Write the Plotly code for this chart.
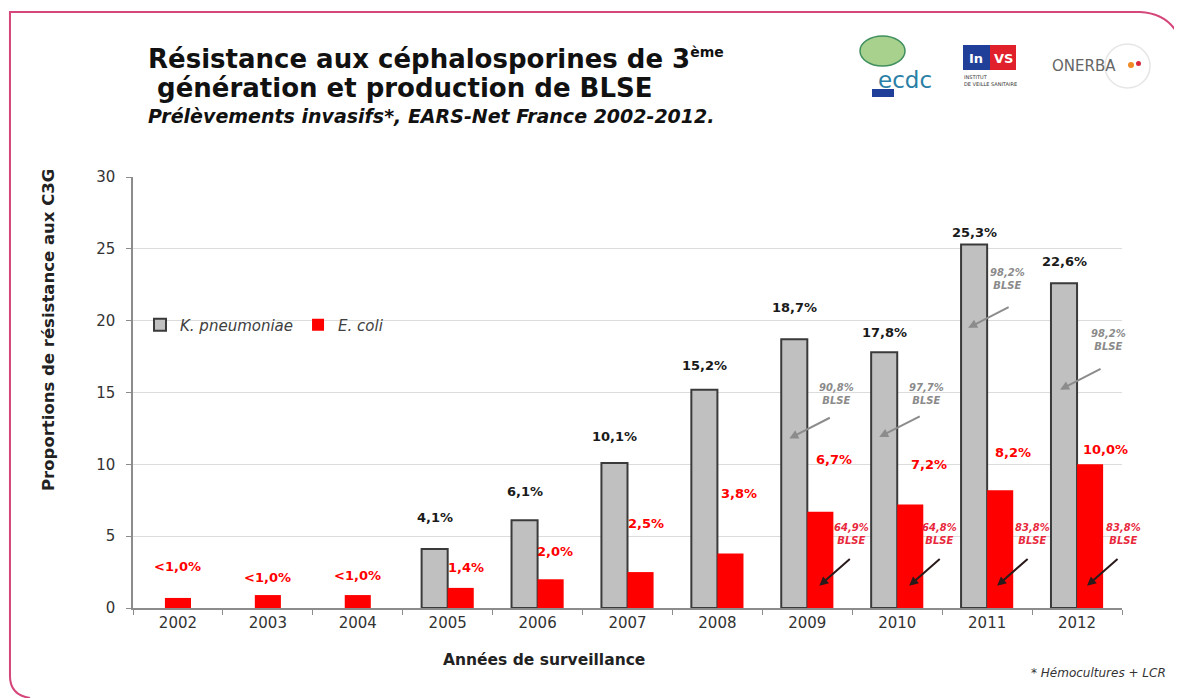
import plotly.graph_objects as go

# ---------------- data ----------------
years = ["2002", "2003", "2004", "2005", "2006", "2007", "2008", "2009", "2010", "2011", "2012"]
kp_values = [None, None, None, 4.1, 6.1, 10.1, 15.2, 18.7, 17.8, 25.3, 22.6]
ec_values = [0.7, 0.9, 0.9, 1.4, 2.0, 2.5, 3.8, 6.7, 7.2, 8.2, 10.0]
kp_labels = ["", "", "", "4,1%", "6,1%", "10,1%", "15,2%", "18,7%", "17,8%", "25,3%", "22,6%"]
ec_labels = ["<1,0%", "<1,0%", "<1,0%", "1,4%", "2,0%", "2,5%", "3,8%", "6,7%", "7,2%", "8,2%", "10,0%"]
blse_years = ["2009", "2010", "2011", "2012"]
kp_blse = ["90,8%", "97,7%", "98,2%", "98,2%"]
ec_blse = ["64,9%", "64,8%", "83,8%", "83,8%"]
y_ticks = [0, 5, 10, 15, 20, 25, 30]

# ---------------- geometry / style ----------------
OFF = 8                      # default page margin of the browser body
W, H = 1182 - OFF, 698 - OFF
X0, X1, Y0, Y1 = 133, 1122, 177, 608     # plot area in screen pixels
PW, PH = X1 - X0, Y1 - Y0
ML, MT = X0 - OFF, Y0 - OFF
MR, MB = W - ML - PW, H - MT - PH
FONT = "DejaVu Sans, Arial, sans-serif"
BAR_W = 0.29


def px(x):
    return (x - X0) / PW


def py(y):
    return (Y1 - y) / PH


def cat(yr):
    # category index on the x axis
    return years.index(yr)


def note(x, y, text, size, color, **kw):
    d = dict(x=px(x), y=py(y), xref="paper", yref="paper", xanchor="center", yanchor="middle",
             text=text, showarrow=False, font=dict(family=FONT, size=size, color=color))
    d.update(kw)
    return d


kp_offsets = [-BAR_W] * len(years)
ec_offsets = [(-BAR_W / 2 if v is None else 0.0) for v in kp_values]

fig = go.Figure()
fig.add_trace(go.Bar(
    x=years, y=kp_values, name="<i>K. pneumoniae</i>",
    width=BAR_W, offset=kp_offsets,
    marker=dict(color="#c0c0c0", line=dict(color="#3a3a3a", width=2)),
))
fig.add_trace(go.Bar(
    x=years, y=ec_values, name="<i>E. coli</i>",
    width=BAR_W, offset=ec_offsets,
    marker=dict(color="#ff0000", line=dict(color="#ff0000", width=0)),
))

ann = []
# value labels, K. pneumoniae
kp_yshift = [0, 0, 0, 32, 29, 26, 24, 32, 20, 12, 22]
for yr, v, t, ys in zip(years, kp_values, kp_labels, kp_yshift):
    if v is None:
        continue
    ann.append(dict(x=cat(yr), y=v, xref="x", yref="y", text="<b>" + t + "</b>", showarrow=False,
                    xshift=-13, yshift=ys, font=dict(family=FONT, size=13, color="#1a1a1a")))
# value labels, E. coli
ec_xshift = [0, 0, 0, 18, 17, 18, 22, 27, 32, 26, 28]
ec_yshift = [31, 18, 20, 20, 28, 49, 60, 52, 40, 38, 15]
for yr, v, t, xs, ys in zip(years, ec_values, ec_labels, ec_xshift, ec_yshift):
    ann.append(dict(x=cat(yr), y=v, xref="x", yref="y", text="<b>" + t + "</b>", showarrow=False,
                    xshift=xs, yshift=ys, font=dict(family=FONT, size=13, color="#ff0000")))

# BLSE notes, K. pneumoniae (grey)
kp_note_y = [14.9, 14.9, 22.9, 18.65]
kp_note_xs = [29, 29, 20, 31]
kp_arrow_y = [11.8, 11.9, 19.5, 15.2]
kp_arrow_xs = [-18, -18, -19, -17]
for yr, t, ny, nx, ay_, axs in zip(blse_years, kp_blse, kp_note_y, kp_note_xs, kp_arrow_y, kp_arrow_xs):
    ann.append(dict(x=cat(yr), y=ny, xref="x", yref="y", text="<b><i>" + t + "<br>BLSE</i></b>",
                    showarrow=False, xshift=nx, font=dict(family=FONT, size=10, color="#8a8a8a")))
    ann.append(dict(x=cat(yr), y=ay_, xref="x", yref="y", text=" ", showarrow=True, xshift=axs,
                    ax=43, ay=-22, arrowhead=2, arrowsize=0.9, arrowwidth=2,
                    arrowcolor="#8c8c8c", standoff=0, font=dict(size=6)))

# BLSE notes, E. coli (red)
ec_note_xs = [44, 42, 45, 46]
ec_arrow_xs = [12, 12, 10, 10]
for yr, t, nx, axs in zip(blse_years, ec_blse, ec_note_xs, ec_arrow_xs):
    ann.append(dict(x=cat(yr), y=5.15, xref="x", yref="y", text="<b><i>" + t + "<br>BLSE</i></b>",
                    showarrow=False, xshift=nx, font=dict(family=FONT, size=10, color="#e8283c")))
    ann.append(dict(x=cat(yr), y=1.55, xref="x", yref="y", text=" ", showarrow=True, xshift=axs,
                    ax=33, ay=-29, arrowhead=2, arrowsize=0.9, arrowwidth=2,
                    arrowcolor="#2a1a1a", standoff=0, font=dict(size=6)))

# titles
ann.append(note(146, 59, "<b>Résistance aux céphalosporines de 3<sup><span style='font-size:14px'>ème</span></sup></b>",
                26, "#111111", xanchor="left"))
ann.append(note(146, 88, "<b> génération et production de BLSE</b>", 26, "#111111", xanchor="left"))
ann.append(note(146, 116, "<b><i>Prélèvements invasifs*, EARS-Net France 2002-2012.</i></b>",
                19, "#111111", xanchor="left"))
# axis titles
ann.append(note(48, 330, "<b>Proportions de résistance aux C3G</b>", 16.5, "#222222", textangle=-90))
ann.append(note(544, 660, "<b>Années de surveillance</b>", 15.5, "#222222"))
# footnote
ann.append(note(1168, 673, "<i>* Hémocultures + LCR</i>", 12, "#333333", xanchor="right"))
# logos (approximated with text)
ann.append(note(905, 80, "ecdc", 23, "#2b7fa6"))
ann.append(note(976, 58, "<b>In</b>", 13, "white"))
ann.append(note(1003, 58, "<b>VS</b>", 13, "white"))
ann.append(note(990, 80, "INSTITUT<br>DE VEILLE SANITAIRE", 5, "#333333", align="left"))
ann.append(note(1084, 66, "ONERBA", 15, "#666666"))

shapes = [
    # slide frame
    dict(type="path", xref="paper", yref="paper",
         path=("M {:.4f},{:.4f} Q {:.4f},{:.4f} {:.4f},{:.4f} L {:.4f},{:.4f} L {:.4f},{:.4f} "
               "Q {:.4f},{:.4f} {:.4f},{:.4f}").format(
             px(30), py(698), px(10), py(695), px(10), py(676), px(10), py(12), px(1140), py(12),
             px(1174), py(14), px(1182), py(46)),
         line=dict(color="#d5467a", width=2)),
    # ecdc globe
    dict(type="circle", xref="paper", yref="paper", x0=px(860), x1=px(905), y0=py(66), y1=py(36),
         fillcolor="#a9d18e", line=dict(color="#3f8f5f", width=1.5)),
    dict(type="rect", xref="paper", yref="paper", x0=px(872), x1=px(894), y0=py(97), y1=py(89),
         fillcolor="#1f3f99", line=dict(width=0)),
    # InVS
    dict(type="rect", xref="paper", yref="paper", x0=px(963), x1=px(990), y0=py(70), y1=py(45),
         fillcolor="#1f3f99", line=dict(width=0)),
    dict(type="rect", xref="paper", yref="paper", x0=px(990), x1=px(1016), y0=py(70), y1=py(45),
         fillcolor="#e0202a", line=dict(width=0)),
    # ONERBA circle
    dict(type="circle", xref="paper", yref="paper", x0=px(1105), x1=px(1150), y0=py(88), y1=py(44),
         fillcolor="rgba(0,0,0,0)", line=dict(color="#e6e6e6", width=1.5)),
    dict(type="circle", xref="paper", yref="paper", x0=px(1128), x1=px(1134), y0=py(68), y1=py(62),
         fillcolor="#f08a24", line=dict(width=0)),
    dict(type="circle", xref="paper", yref="paper", x0=px(1136), x1=px(1141), y0=py(66), y1=py(61),
         fillcolor="#d9283c", line=dict(width=0)),
]

fig.update_layout(
    width=W, height=H,
    margin=dict(l=ML, r=MR, t=MT, b=MB, pad=0, autoexpand=False),
    paper_bgcolor="white", plot_bgcolor="white",
    barmode="overlay",
    showlegend=True,
    legend=dict(x=px(140), y=py(325), xanchor="left", yanchor="middle", orientation="h",
                font=dict(family=FONT, size=15, color="#404040"), bgcolor="rgba(0,0,0,0)",
                itemwidth=30, tracegroupgap=0),
    xaxis=dict(type="category", categoryorder="array", categoryarray=years, range=[-0.5, 10.5],
               showline=True, linecolor="#8c8c8c", linewidth=1.5, ticks="outside", tickson="boundaries",
               ticklen=5, tickcolor="#8c8c8c", showgrid=False, zeroline=False, tickangle=0,
               automargin=False, tickfont=dict(family=FONT, size=15, color="#333333")),
    yaxis=dict(range=[0, 30], tickvals=y_ticks, showline=True, linecolor="#8c8c8c", linewidth=1.5,
               ticks="outside", ticklen=5, tickcolor="#8c8c8c", showgrid=True, gridcolor="#dcdcdc",
               gridwidth=1, zeroline=False, ticklabelstandoff=8, automargin=False,
               tickfont=dict(family=FONT, size=15, color="#333333")),
    annotations=ann,
    shapes=shapes,
    font=dict(family=FONT),
)

fig.write_html("out.html")
